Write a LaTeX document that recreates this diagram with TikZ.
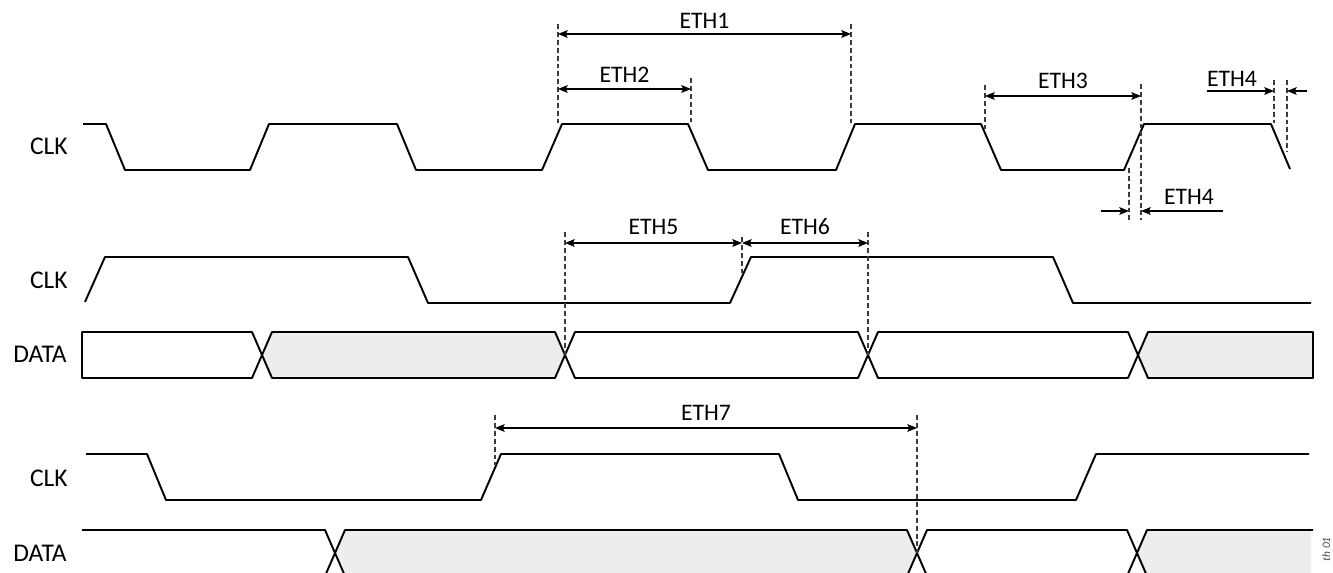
\documentclass[tikz,border=0pt]{standalone}
\usepackage{fontspec}
\setmainfont{Carlito}
\usetikzlibrary{arrows.meta}
\definecolor{datagray}{RGB}{237,237,237}
\definecolor{guidegray}{RGB}{60,60,60}

\begin{document}
\begin{tikzpicture}[x=0.02cm, y=-0.02cm, line join=round,
  every node/.style={font=\fontsize{13.5}{15}\selectfont, inner sep=0},
  signame/.style={anchor=base east, font=\fontsize{14.5}{16}\selectfont},
  wave/.style={line width=1.1pt},
  guide/.style={guidegray, line width=0.6pt, dash pattern=on 2.8pt off 1.7pt},
  dim/.style={line width=0.65pt,
    {Stealth[length=5.5pt, width=4.4pt, inset=1pt]}-{Stealth[length=5.5pt, width=4.4pt, inset=1pt]}},
  half/.style={line width=0.65pt, -{Stealth[length=5.5pt, width=4.4pt, inset=1pt]}}]
  \def\dataseg#1#2#3#4{
    \filldraw[wave, fill=#3] (#1,#4+23) -- (#1+10,#4) -- (#2-10,#4)
    -- (#2,#4+23) -- (#2-10,#4+46) -- (#1+10,#4+46) -- cycle;
  }
  \useasboundingbox (0,0) rectangle (1333,573);
  \clip (0,0) rectangle (1333,573);

  % signal names
  \node[signame] (clka) at (68,155) {CLK};
  \node[signame] (clkb) at (68,289) {CLK};
  \node[signame] (datab) at (67,363) {DATA};
  \node[signame] (clkc) at (68,487) {CLK};
  \node[signame] (datac) at (67,562) {DATA};

  % clocks
  \draw[wave] (83,124) -- (106,124) -- (125,170) -- (250,170) -- (269,124)
  -- (397,124) -- (416,170) -- (542,170) -- (562,124) -- (688,124)
  -- (708,170) -- (836,170) -- (855,124) -- (981,124) -- (1001,170)
  -- (1124,170) -- (1144,124) -- (1271,124) -- (1290,169);
  \draw[wave] (85,302) -- (105,257) -- (408,257) -- (428,303) -- (730,303)
  -- (751,257) -- (1053,257) -- (1073,303) -- (1311,303);
  \draw[wave] (86,454) -- (147,454) -- (166,500) -- (481,500) -- (501,454)
  -- (779,454) -- (798,500) -- (1076,500) -- (1096,454) -- (1309,454);

  % data, middle diagram
  \draw[wave] (82,332) -- (252,332) -- (262,355) -- (252,378) -- (82,378) -- cycle;
  \dataseg{262}{565}{datagray}{332}
  \dataseg{565}{868}{white}{332}
  \dataseg{868}{1138}{white}{332}
  \filldraw[wave, fill=datagray] (1138,355) -- (1148,332) -- (1313,332)
  -- (1313,378) -- (1148,378) -- cycle;

  % data, lower diagram
  \draw[wave] (82,530) -- (325,530) -- (335,553) -- (325,576);
  \dataseg{335}{917}{datagray}{530}
  \dataseg{917}{1137}{white}{530}
  \fill[datagray] (1137,553) -- (1147,530) -- (1311,530) -- (1311,576) -- (1147,576) -- cycle;
  \draw[wave] (1313,530) -- (1147,530) -- (1137,553) -- (1147,576);

  % dashed guides
  \draw[guide] (558,24) -- (558,123) (851,24) -- (851,123)
  (691,78) -- (691,125) (985,85) -- (985,132) (1141,84) -- (1141,220)
  (1129,168) -- (1129,220) (1274,80) -- (1274,123) (1287,80) -- (1287,152)
  (565,232) -- (565,355) (742,237) -- (742,273) (868,232) -- (868,355)
  (495,415) -- (495,465) (917,415) -- (917,553);

  \coordinate (eth1l) at (558,34);
  \coordinate (eth1r) at (851,34);
  \coordinate (eth2l) at (558,89);
  \coordinate (eth2r) at (691,89);
  \coordinate (eth3l) at (985,96);
  \coordinate (eth3r) at (1141,96);
  \coordinate (eth4a) at (1274,91);
  \coordinate (eth4b) at (1287,91);
  \coordinate (eth4p) at (1207,91);
  \coordinate (eth4q) at (1307,91);
  \coordinate (eth4c) at (1129,211);
  \coordinate (eth4d) at (1141,211);
  \coordinate (eth4r) at (1101,211);
  \coordinate (eth4s) at (1223,211);
  \coordinate (eth5l) at (565,243);
  \coordinate (eth5r) at (742,243);
  \coordinate (eth6r) at (868,243);
  \coordinate (eth7l) at (495,428);
  \coordinate (eth7r) at (917,428);

  \path (eth1l) edge[dim] node[above=3pt] (eth1) {ETH1} (eth1r)
  (eth2l) edge[dim] node[above=3.5pt] (eth2) {ETH2} (eth2r)
  (eth3l) edge[dim] node[above=3.8pt] (eth3) {ETH3} (eth3r)
  (eth4p) edge[half] (eth4a)
  (eth4q) edge[half] (eth4b)
  (eth4r) edge[half] (eth4c)
  (eth4s) edge[half] (eth4d)
  (eth5l) edge[dim] node[above=4.2pt] (eth5) {ETH5} (eth5r)
  (eth5r) edge[dim] node[above=4.2pt] (eth6) {ETH6} (eth6r)
  (eth7l) edge[dim] node[above=3.8pt] (eth7) {ETH7} (eth7r);
  \node[anchor=base] (eth4top) at (1232,87) {ETH4};
  \node[anchor=base] (eth4bot) at (1189,205) {ETH4};

  \node[rotate=90, anchor=base east, black!70,
  font=\fontsize{6.5}{7}\selectfont\itshape] (figid) at (1330,537) {th~01};
\end{tikzpicture}
\end{document}
